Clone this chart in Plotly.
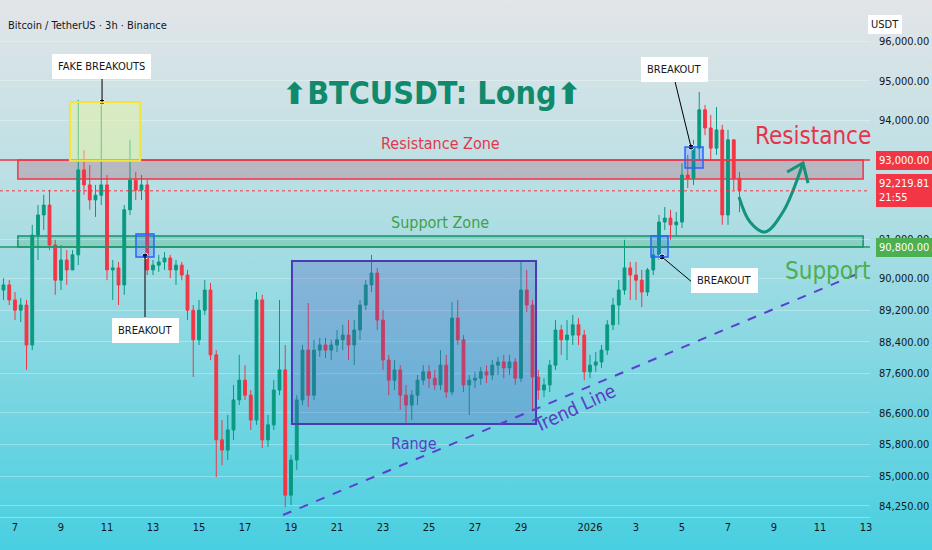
import base64
import pandas as pd
import plotly.graph_objects as go

# 6h candles, starting 2025-12-06 12:00
first_open = 89710
closes = [89840, 89460, 89200, 89330, 88320, 91100, 91610, 91860, 90850, 89960,
          90470, 90220, 90600, 92750, 92370, 91990, 92110, 92370, 90220, 90270,
          89840, 91740, 92490, 92240, 92370, 90220, 90340, 90420, 90520, 90220,
          90340, 90090, 89200, 88450, 89200, 89710, 88070, 85920, 85660, 86170,
          86930, 87430, 87050, 86420, 89460, 85920, 86300, 87180, 87690, 84520,
          85410, 86930, 88190, 87050, 88190, 88320, 88190, 88320, 88450, 88570,
          88320, 88700, 89330, 89840, 90140, 88950, 87940, 87430, 87690, 87050,
          86800, 87050, 87430, 87640, 87480, 87310, 87810, 87130, 89000, 88450,
          87310, 87430, 87480, 87640, 87560, 87810, 87890, 87740, 87890, 87480,
          89710, 89330, 87510, 87180, 87310, 87810, 88700, 88450, 88570, 88830,
          88570, 87640, 87810, 87890, 88190, 88830, 89330, 89710, 90270, 90090,
          89960, 89660, 90220, 90600, 91430, 91530, 91360, 91430, 92620, 92540,
          93300, 94270, 93810, 93300, 93760, 91610, 93510, 92540, 92219.81]
highs = [90010, 89960, 89660, 89510, 89460, 91360, 91860, 92120, 92240, 90980,
         90850, 90720, 90720, 94520, 93250, 92870, 92370, 94470, 92620, 90470,
         90420, 91860, 93510, 92700, 92620, 92490, 90470, 90600, 90670, 90600,
         90470, 90420, 90220, 89330, 89460, 89960, 89890, 88190, 86420, 86550,
         87310, 88070, 87810, 87180, 89660, 89590, 86550, 87430, 89460, 88320,
         85540, 87050, 88320, 89380, 88450, 88500, 88500, 88450, 88700, 88830,
         88950, 88950, 89460, 89960, 90600, 90270, 89200, 88070, 87940, 87810,
         87310, 87180, 87560, 87810, 87810, 87690, 88190, 88070, 89410, 89460,
         88570, 87560, 87640, 87760, 87810, 87940, 88020, 88070, 88070, 87990,
         90420, 90220, 89460, 87690, 87480, 87940, 88950, 88830, 88950, 89080,
         89000, 88700, 88070, 88140, 88320, 88950, 89510, 89960, 90980, 90420,
         90420, 90220, 90270, 90770, 91610, 91810, 91740, 91680, 92920, 93130,
         93510, 94720, 94390, 94140, 94340, 93890, 93760, 93510, 92700]
lows = [89460, 89330, 88950, 88900, 87690, 88190, 90470, 91230, 90720, 89590,
        89710, 89840, 90220, 90340, 92120, 91740, 91560, 91860, 89960, 89460,
        89330, 89590, 91610, 91990, 91990, 90090, 90090, 90170, 90220, 90010,
        89840, 89960, 88950, 87510, 88320, 89080, 87940, 84980, 85280, 85410,
        85920, 86800, 86930, 86170, 86300, 85710, 85740, 86170, 87050, 84220,
        84270, 85160, 86800, 86750, 86930, 88020, 87990, 87940, 88140, 88190,
        87940, 87810, 88450, 89200, 89660, 88700, 87690, 87050, 87180, 86680,
        86350, 86420, 86800, 87310, 87230, 87180, 87180, 86980, 87050, 88320,
        87130, 86550, 87230, 87310, 87360, 87430, 87560, 87480, 87560, 87310,
        87380, 89150, 86680, 86930, 87000, 87130, 87690, 88070, 87940, 88320,
        88320, 87430, 87480, 87640, 87740, 88070, 88700, 88830, 89590, 89460,
        89460, 89280, 89560, 90090, 90470, 91230, 90980, 91080, 91280, 92290,
        92370, 93000, 93630, 93000, 93130, 91360, 91360, 92240, 91680]

price_ticks = [96000, 95000, 94000, 91000, 90000, 89200, 88400, 87600, 86600, 85800, 85000, 84250]
date_ticks = ["2025-12-07", "2025-12-09", "2025-12-11", "2025-12-13", "2025-12-15", "2025-12-17",
              "2025-12-19", "2025-12-21", "2025-12-23", "2025-12-25", "2025-12-27", "2025-12-29",
              "2026-01-01", "2026-01-03", "2026-01-05", "2026-01-07", "2026-01-09", "2026-01-11",
              "2026-01-13"]
date_labels = ["7", "9", "11", "13", "15", "17", "19", "21", "23", "25", "27", "29",
               "2026", "3", "5", "7", "9", "11", "13"]

resistance = (92520, 93000)
support = (90800, 91075)
last_price = 92219.81

UP = "#089981"
DOWN = "#f23645"
NARROW = "DejaVu Sans Condensed, Liberation Sans Narrow, sans-serif"
W, H, PLOT_W, PLOT_H = 932, 550, 870, 517

times = pd.date_range("2025-12-06 12:00", periods=len(closes), freq="6h")
opens = [first_open] + closes[:-1]

fig = go.Figure()
fig.add_trace(go.Candlestick(
    x=times, open=opens, high=highs, low=lows, close=closes,
    increasing=dict(line=dict(color=UP, width=1), fillcolor=UP),
    decreasing=dict(line=dict(color=DOWN, width=1), fillcolor=DOWN),
    whiskerwidth=0, showlegend=False, hoverinfo="skip",
))

# projected path: dip to support then up through resistance
fig.add_trace(go.Scatter(
    x=["2026-01-07 11:30", "2026-01-07 23:00", "2026-01-08 14:40", "2026-01-09 09:20", "2026-01-10 06:15"],
    y=[92064, 91431, 91178, 91684, 92924],
    mode="lines", line=dict(color="#12937a", width=3, shape="spline"),
    showlegend=False, hoverinfo="skip",
))
fig.add_trace(go.Scatter(
    x=["2026-01-09 13:40", "2026-01-10 06:15", "2026-01-10 11:30"],
    y=[92696, 92924, 92418],
    mode="lines", line=dict(color="#12937a", width=3),
    showlegend=False, hoverinfo="skip",
))

# breakout dots
fig.add_trace(go.Scatter(
    x=["2025-12-10 18:50", "2025-12-12 15:40", "2026-01-04 03:10", "2026-01-05 09:25"],
    y=[94468, 90572, 90546, 93329],
    mode="markers", marker=dict(color="black", size=6, line=dict(color="white", width=1)),
    showlegend=False, hoverinfo="skip",
))

# background gradient
svg = ('<svg xmlns="http://www.w3.org/2000/svg" width="932" height="550" preserveAspectRatio="none">'
       '<defs><linearGradient id="g" x1="0" y1="0" x2="0" y2="1">'
       '<stop offset="0" stop-color="#e3e5e8"/><stop offset="0.35" stop-color="#b7dfe4"/>'
       '<stop offset="1" stop-color="#48cfe0"/></linearGradient></defs>'
       '<rect width="932" height="550" fill="url(#g)"/></svg>')
bg = "data:image/svg+xml;base64," + base64.b64encode(svg.encode()).decode()

shapes = [
    # resistance zone
    dict(type="rect", x0="2025-12-07 03:00", x1="2026-01-12 21:00", y0=resistance[0], y1=resistance[1],
         fillcolor="rgba(182,180,188,0.9)", line=dict(color=DOWN, width=1.5), layer="below"),
    dict(type="line", xref="paper", x0=0, x1=1, y0=resistance[1], y1=resistance[1],
         line=dict(color=DOWN, width=1.5)),
    # support zone
    dict(type="rect", x0="2025-12-07 03:00", x1="2026-01-12 21:00", y0=support[0], y1=support[1],
         fillcolor="rgba(70,175,120,0.3)", line=dict(color="#13916e", width=1.5), layer="below"),
    dict(type="line", xref="paper", x0=0, x1=1, y0=support[0], y1=support[0],
         line=dict(color="#1e9b62", width=1.5)),
    # last price
    dict(type="line", xref="paper", x0=0, x1=1, y0=last_price, y1=last_price,
         line=dict(color=DOWN, width=1, dash="dot")),
    # fake breakouts box
    dict(type="rect", x0="2025-12-09 09:20", x1="2025-12-12 10:30", y0=92980, y1=94470,
         fillcolor="rgba(236,246,150,0.45)", line=dict(color="#f3e43c", width=2)),
    # range box
    dict(type="rect", x0="2025-12-19 01:00", x1="2025-12-29 15:40", y0=86320, y1=90445,
         fillcolor="rgba(80,90,190,0.3)", line=dict(color="#4b3bb0", width=2)),
    # trend line
    dict(type="line", x0="2025-12-18 15:40", x1="2026-01-12 19:50", y0=84018, y1=90166,
         line=dict(color="#5b3fd1", width=2, dash="dash")),
    # breakout markers
    dict(type="rect", x0="2025-12-12 06:15", x1="2025-12-13 01:00", y0=90546, y1=91128,
         fillcolor="rgba(41,98,255,0.2)", line=dict(color="#2962ff", width=1.5)),
    dict(type="rect", x0="2026-01-03 15:40", x1="2026-01-04 09:25", y0=90546, y1=91077,
         fillcolor="rgba(41,98,255,0.2)", line=dict(color="#2962ff", width=1.5)),
    dict(type="rect", x0="2026-01-05 03:10", x1="2026-01-05 21:55", y0=92798, y1=93329,
         fillcolor="rgba(41,98,255,0.2)", line=dict(color="#2962ff", width=1.5)),
    # pointer lines
    dict(type="line", x0="2025-12-10 18:50", x1="2025-12-10 18:50", y0=94468, y1=95075,
         line=dict(color="black", width=1)),
    dict(type="line", x0="2025-12-12 15:40", x1="2025-12-12 15:40", y0=90572, y1=89028,
         line=dict(color="black", width=1)),
    dict(type="line", x0="2026-01-04 03:10", x1="2026-01-05 10:20", y0=90546, y1=89913,
         line=dict(color="black", width=1)),
    dict(type="line", x0="2026-01-05 09:25", x1="2026-01-04 16:50", y0=93329, y1=94973,
         line=dict(color="black", width=1)),
]

annotations = []


def label(text, x, y):
    annotations.append(dict(x=x, y=y, text=text, showarrow=False, bgcolor="white",
                            bordercolor="white", borderpad=5,
                            font=dict(family=NARROW, size=11, color="#131722")))


def note(text, x, y, color, size, angle=0):
    annotations.append(dict(x=x, y=y, text=text, showarrow=False, textangle=angle,
                            font=dict(family=NARROW, size=size, color=color)))


def axis_box(text, ypx, color):
    annotations.append(dict(xref="paper", yref="paper", x=876 / PLOT_W, y=1 - ypx / PLOT_H,
                            xanchor="left", yanchor="middle", align="left", text=text,
                            showarrow=False, bgcolor=color, bordercolor=color, borderpad=2,
                            font=dict(family=NARROW, size=11, color="white")))


label("FAKE BREAKOUTS", "2025-12-10 17:50", 95378)
label("BREAKOUT", "2025-12-12 15:40", 88699)
label("BREAKOUT", "2026-01-06 19:50", 89939)
label("BREAKOUT", "2026-01-04 15:40", 95302)

note("Resistance Zone", "2025-12-25 11:30", 93405, "#e5364a", 16)
note("Support Zone", "2025-12-25 11:30", 91431, "#43a047", 16)
note("Range", "2025-12-24 08:20", 85840, "#5b3cc4", 16)
note("Trend Line", "2025-12-31 07:20", 86726, "#5b3cc4", 19, angle=-25)
note("Resistance", "2026-01-10 16:50", 93607, "#e8334a", 24)
note("Support", "2026-01-11 07:40", 90192, "#4caf50", 24)

annotations.append(dict(
    xref="paper", yref="paper", x=432 / PLOT_W, y=1 - 72 / PLOT_H, showarrow=False,
    text="<span style='font-family:DejaVu Sans;font-size:30px'>⬆</span>BTCUSDT: Long"
         "<span style='font-family:DejaVu Sans;font-size:30px'>⬆</span>",
    font=dict(family=NARROW, size=32, color="#0f8a6c", weight="bold"),
))
annotations.append(dict(
    xref="paper", yref="paper", x=6 / PLOT_W, y=1 - 17 / PLOT_H, xanchor="left", showarrow=False,
    text="Bitcoin / TetherUS · 3h · Binance", font=dict(family=NARROW, size=11, color="#131722"),
))
annotations.append(dict(
    xref="paper", yref="paper", x=903 / PLOT_W, y=1 - 14 / PLOT_H, showarrow=False, text="USDT",
    bgcolor="white", bordercolor="#e0e3eb", borderpad=3,
    font=dict(family=NARROW, size=11, color="#131722"),
))
axis_box("93,000.00", 160, DOWN)
axis_box("92,219.81<br>21:55", 191, DOWN)
axis_box("90,800.00", 247, "#4caf50")

fig.update_layout(
    width=W, height=H,
    margin=dict(l=0, r=W - PLOT_W, t=0, b=H - PLOT_H),
    paper_bgcolor="#9adbe3", plot_bgcolor="rgba(0,0,0,0)",
    images=[dict(source=bg, xref="paper", yref="paper", x=0, y=1, sizex=W / PLOT_W, sizey=H / PLOT_H,
                 xanchor="left", yanchor="top", sizing="stretch", layer="below")],
    shapes=shapes, annotations=annotations,
    xaxis=dict(type="date", range=["2025-12-06 08:21", "2026-01-13 04:10"], rangeslider=dict(visible=False),
               tickvals=date_ticks, ticktext=date_labels, showgrid=False, zeroline=False,
               showline=True, linecolor="rgba(255,255,255,0.35)", ticks="",
               tickfont=dict(family=NARROW, size=11, color="#131722")),
    yaxis=dict(side="right", range=[83968, 97048], tickvals=price_ticks, tickformat=",.2f",
               showgrid=True, gridcolor="rgba(255,255,255,0.3)", zeroline=False, ticks="",
               ticklabelstandoff=8,
               tickfont=dict(family=NARROW, size=11, color="#131722")),
    hovermode=False,
)

fig.write_html("out.html", config=dict(displayModeBar=False),
               post_script="document.body.style.margin='0';")
